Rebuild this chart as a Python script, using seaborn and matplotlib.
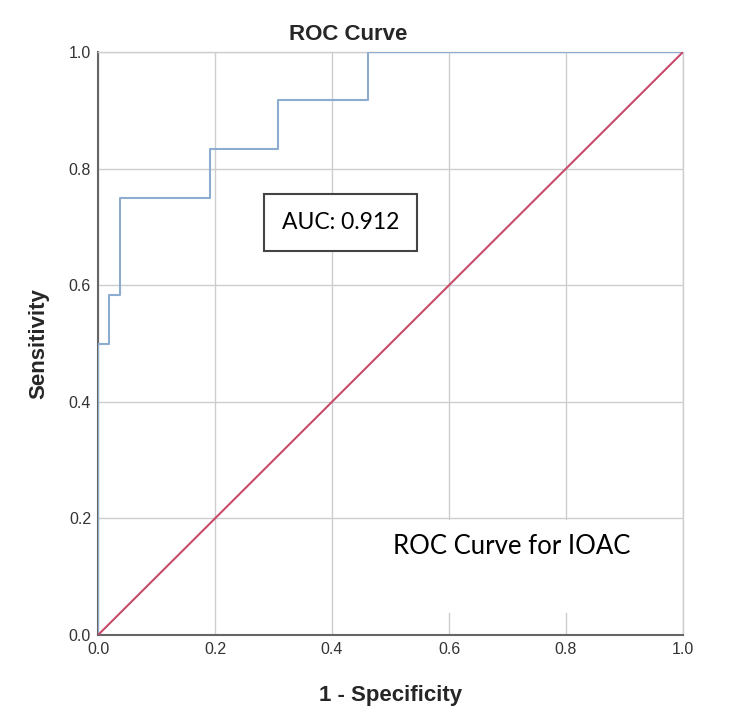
import numpy as np
import pandas as pd
import matplotlib
matplotlib.use("Agg")
import matplotlib.pyplot as plt
import seaborn as sns
from matplotlib.patches import Rectangle

# ROC corner points (1 - specificity, sensitivity), drawn as post steps
fpr = [0.0, 0.0, 0.019, 0.038, 0.192, 0.308, 0.462, 1.0]
tpr = [0.0, 0.5, 0.583, 0.75, 0.833, 0.917, 1.0, 1.0]
ref_x = [0.0, 1.0]
ref_y = [0.0, 1.0]
ticks = [0.0, 0.2, 0.4, 0.6, 0.8, 1.0]
tick_labels = ["0.0", "0.2", "0.4", "0.6", "0.8", "1.0"]
auc_text = "AUC: 0.912"
note_text = "ROC Curve for IOAC"

df = pd.DataFrame({"fpr": fpr, "tpr": tpr})
ref = pd.DataFrame({"x": ref_x, "y": ref_y})

sns.set_style("whitegrid")
plt.rcParams["font.family"] = ["Liberation Sans", "DejaVu Sans"]

fig = plt.figure(figsize=(7.5, 7.27), dpi=100)
ax = fig.add_axes([0.1307, 0.1265, 0.78, 0.802])

sns.lineplot(data=df, x="fpr", y="tpr", ax=ax, sort=False, estimator=None,
             drawstyle="steps-post", color="#8cadd0", linewidth=1.5, zorder=3)
sns.lineplot(data=ref, x="x", y="y", ax=ax, sort=False, estimator=None,
             color="#c84b6b", linewidth=1.5, zorder=3)

ax.set_xlim(0, 1)
ax.set_ylim(0, 1)
ax.set_xticks(ticks)
ax.set_yticks(ticks)
narrow = ["Liberation Sans Narrow", "Liberation Sans"]
ax.set_xticklabels(tick_labels, family=narrow, fontsize=11.5, color="#333333")
ax.set_yticklabels(tick_labels, family=narrow, fontsize=11.5, color="#333333")
ax.tick_params(axis="both", length=0, pad=5)
ax.grid(True, color="#cdcdcd", linewidth=1)

for side in ["top", "right"]:
    ax.spines[side].set_color("#cdcdcd")
    ax.spines[side].set_linewidth(1)
for side in ["left", "bottom"]:
    ax.spines[side].set_color("#666666")
    ax.spines[side].set_linewidth(1.5)

ax.set_xlabel("1 - Specificity", fontsize=16, fontweight="bold", labelpad=20)
ax.set_ylabel("Sensitivity", fontsize=16, fontweight="bold", labelpad=14)
fig.text(0.464, 0.952, "ROC Curve", ha="center", va="center",
         fontsize=16, fontweight="bold")

# white panel behind the lower-right note
ax.add_patch(Rectangle((0.45, 0.038), 0.548, 0.16, facecolor="white",
                       edgecolor="none", zorder=2))
ax.text(0.504, 0.151, note_text, ha="left", va="center", fontsize=18.5,
        family=["Lato", "DejaVu Sans"], color="#000000", zorder=4)

ax.text(0.415, 0.708, auc_text, ha="center", va="center", fontsize=16.5,
        family=["Lato", "DejaVu Sans"], color="#000000", zorder=4,
        bbox=dict(boxstyle="square,pad=0.78", facecolor="white",
                  edgecolor="#444444", linewidth=1.5))

fig.savefig("out.png", dpi=100)
